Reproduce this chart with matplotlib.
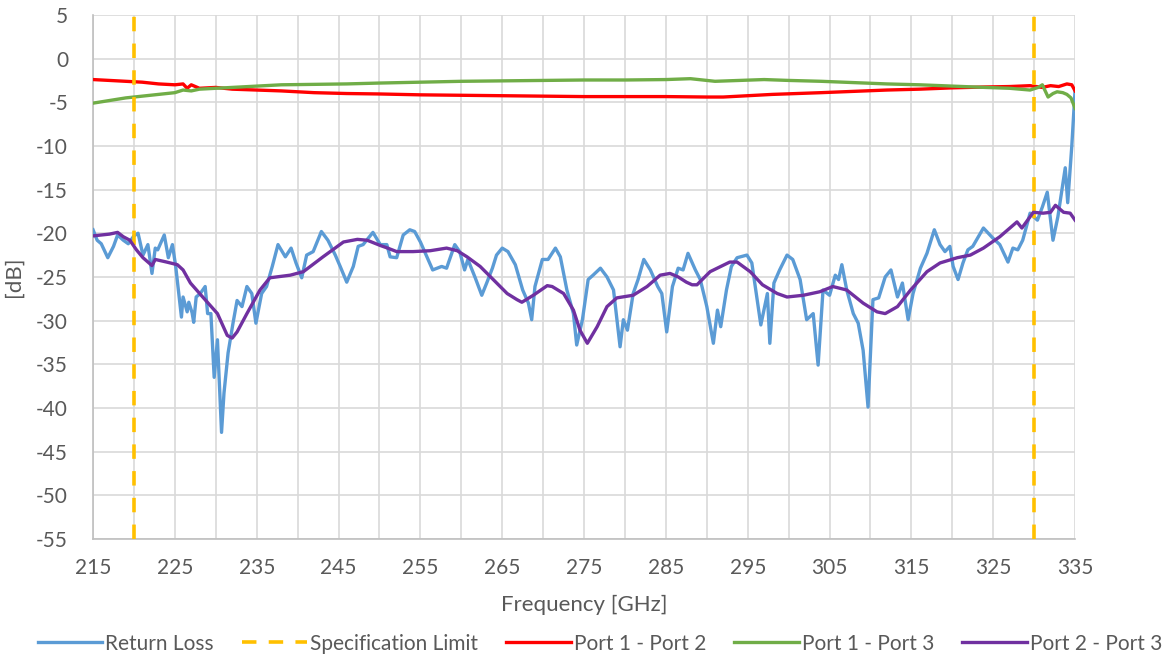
import matplotlib
matplotlib.use('Agg')
import matplotlib.pyplot as plt

plt.rcParams['font.family'] = ['Lato', 'DejaVu Sans']
plt.rcParams['axes.unicode_minus'] = False

# Return Loss (blue)
rl_freq = [215, 215.5, 216, 216.8, 217.5, 218, 218.7, 219.3, 220, 220.5, 221.1, 221.7, 222.2, 222.6,
           222.9, 223.7, 224.2, 224.7, 225.1, 225.8, 226, 226.5, 226.7, 227.1, 227.3, 227.6, 228.1,
           228.7, 229, 229.4, 229.8, 230.2, 230.7, 231, 231.5, 232.1, 232.6, 233.2, 233.8, 234.4,
           234.9, 235.6, 236.2, 236.9, 237.6, 238.5, 239.2, 239.8, 240.5, 241.1, 241.9, 242.9,
           243.7, 244.6, 245.2, 246, 246.8, 247.4, 248, 249.2, 250.1, 250.9, 251.3, 252.1, 252.9,
           253.7, 254.3, 255, 255.8, 256.5, 257.6, 258.2, 259.2, 259.8, 260.4, 260.8, 261.7, 262.5,
           263.1, 263.8, 264.3, 265, 265.7, 266.6, 267.5, 268.2, 268.6, 269, 269.9, 270.6, 271.5,
           272.1, 272.9, 273.7, 274.1, 274.8, 275.5, 276.1, 277, 277.8, 278.6, 279.4, 279.8, 280.3,
           281, 281.6, 282.3, 283.1, 284, 284.5, 285.1, 285.8, 286.5, 287.1, 287.7, 288.6, 289.2,
           290, 290.8, 291.3, 291.7, 292.4, 293, 293.7, 294.9, 295.5, 296.1, 296.6, 297.4, 297.7,
           298.2, 298.9, 299.8, 300.5, 301.4, 302.2, 303, 303.6, 304.2, 305, 305.7, 306.1, 306.5,
           307.1, 307.9, 308.5, 309.1, 309.7, 310.3, 311, 311.8, 312.5, 313.3, 313.9, 314.6, 315.2,
           316.1, 316.9, 317.8, 318.5, 319.1, 319.7, 320.1, 320.7, 321.3, 321.9, 322.5, 323.8,
           324.9, 325.8, 326.8, 327.4, 328, 328.6, 329.5, 330.4, 331, 331.6, 332.3, 332.9, 333.8,
           334.1, 334.6, 335]
rl_db = [-19.6, -20.8, -21.2, -22.8, -21.5, -20.2, -20.8, -21.2, -20.3, -20, -22.5, -21.3, -24.6, -21.7,
         -21.9, -20.2, -22.8, -21.3, -23.8, -29.6, -27.3, -29, -27.9, -29.1, -30.2, -27.3, -26.9,
         -26.1, -29.2, -29.2, -36.5, -32.2, -42.8, -38.3, -33.7, -30.3, -27.7, -28.4, -26.1, -26.9,
         -30.3, -26.9, -26.1, -23.8, -21.3, -22.7, -21.7, -23.4, -25.1, -22.5, -22.1, -19.8,
         -20.8, -22.5, -23.8, -25.6, -23.8, -21.5, -21.3, -19.9, -21.3, -21.3, -22.7, -22.8, -20.2,
         -19.6, -19.8, -21, -22.7, -24.2, -23.8, -24, -21.3, -22.1, -24.2, -23, -25.1, -27.1,
         -25.7, -24, -22.5, -21.7, -22.1, -23.6, -26.5, -28, -29.9, -26.1, -23, -23, -21.7,
         -22.7, -26.5, -29.2, -32.8, -29.9, -25.3, -24.8, -24, -25, -26.5, -33, -29.9, -31.1,
         -26.9, -25.3, -23, -24.2, -26.1, -26.9, -31.3, -26.1, -24, -24.2, -22.3, -24.2, -25.3,
         -28.4, -32.6, -28.8, -30.7, -26.5, -23.8, -22.8, -22.5, -23.4, -27.3, -30.5, -26.9, -32.6,
         -25.7, -24.2, -22.5, -23, -25.3, -29.9, -29.2, -35.1, -26.5, -27.1, -24.8, -25.3, -23.6,
         -26.5, -29.2, -30.3, -33.4, -39.9, -27.6, -27.4, -25, -24.2, -27.3, -25.7, -29.9, -26.9,
         -24, -22.3, -19.6, -21.3, -22.1, -21.5, -23.8, -25.3, -23.4, -21.9, -21.5, -19.4,
         -20.5, -21.3, -23.3, -21.7, -21.9, -20.8, -17.7, -18.5, -17, -15.3, -20.8, -18.1, -12.5,
         -16.5, -10, -3.6]

# Port 2 - Port 3 (purple)
p23_freq = [215, 216, 217, 218, 218.7, 219.5, 220.3, 221.1, 222.2, 222.6, 224, 225.3, 226, 226.9,
            228.4, 230.2, 231.4, 232, 232.6, 233.8, 235.4, 236.6, 239.1, 240.7, 243.1, 245.6, 247.3,
            248.5, 250.1, 251, 252.1, 254.1, 256.2, 258.2, 259.5, 260.7, 262.3, 263.9, 265.6, 266.8,
            267.4, 268.8, 270.5, 271.1, 272.5, 273.7, 274.5, 275.4, 276.6, 277.8, 279, 281, 282.7,
            284.3, 285.5, 286.5, 287.5, 288.2, 288.8, 290.4, 292.8, 293.7, 295.3, 296.8, 298.6,
            299.8, 301.8, 303.8, 305.4, 307.1, 309.1, 310.8, 311.8, 313.3, 314.9, 316.9, 318.5,
            320.6, 322.2, 323.8, 325.8, 327.9, 328.5, 329.9, 331.1, 332, 332.6, 333.6, 334.4, 335]
p23_db = [-20.3, -20.2, -20.1, -19.9, -20.4, -20.8, -21.9, -22.8, -23.7, -23, -23.3, -23.6, -24.2, -25.7,
          -27.3, -29.2, -31.7, -32, -31.3, -29.2, -26.5, -25.1, -24.8, -24.4, -22.7, -21, -20.7,
          -20.8, -21.4, -21.7, -22.1, -22.1, -22, -21.7, -22, -22.7, -23.8, -25.3, -26.9, -27.6,
          -27.9, -27.1, -26, -26.1, -26.9, -28.8, -31.1, -32.6, -30.7, -28.4, -27.4, -27.1, -26.1,
          -24.8, -24.6, -25, -25.6, -25.9, -25.9, -24.4, -23.3, -23.3, -24.4, -25.9, -26.9,
          -27.3, -27.1, -26.7, -26.1, -26.5, -28, -29, -29.2, -28.4, -26.5, -24.4, -23.4,
          -22.8, -22.5, -21.7, -20.4, -18.7, -19.4, -17.6, -17.7, -17.6, -16.8, -17.6, -17.7, -18.5]

# Port 1 - Port 2 (red)
p12_freq = [215, 217, 219, 221, 223, 225, 226, 226.5, 227, 228, 230, 232, 235, 238, 242, 246, 250,
            255, 260, 265, 270, 275, 280, 285, 290, 292, 295, 298, 301, 304, 308, 312, 316, 320,
            324, 327, 329.5, 331, 332, 333, 334, 334.6, 335]
p12_db = [-2.4, -2.5, -2.6, -2.7, -2.9, -3.0, -2.9, -3.4, -3.0, -3.4, -3.3, -3.5, -3.6, -3.7, -3.9, -4.0,
          -4.05, -4.15, -4.2, -4.25, -4.3, -4.35, -4.35, -4.35, -4.4, -4.4, -4.25, -4.1, -4.0, -3.9,
          -3.75, -3.6, -3.5, -3.35, -3.25, -3.2, -3.1, -3.3, -3.1, -3.2, -2.9, -3.0, -3.7]

# Port 1 - Port 3 (green)
p13_freq = [215, 217, 219, 221, 223, 225, 226, 227, 228, 230, 232, 235, 238, 242, 246, 250, 255,
            260, 265, 270, 275, 280, 285, 288, 291, 294, 297, 300, 304, 308, 312, 316, 320, 324,
            327, 329.5, 330.5, 331, 331.7, 332.3, 332.8, 333.5, 334, 334.5, 335]
p13_db = [-5.1, -4.8, -4.5, -4.3, -4.1, -3.9, -3.6, -3.7, -3.5, -3.4, -3.3, -3.15, -3.0, -2.95, -2.9,
          -2.8, -2.7, -2.6, -2.55, -2.5, -2.45, -2.45, -2.4, -2.3, -2.6, -2.5, -2.4, -2.5, -2.6,
          -2.75, -2.9, -3.0, -3.15, -3.3, -3.4, -3.6, -3.3, -3.0, -4.4, -4.0, -3.8, -3.9, -4.1,
          -4.5, -5.7]

spec_limits = [220, 330]
x_ticks = list(range(215, 336, 10))
y_ticks = list(range(-55, 6, 5))

fig = plt.figure(figsize=(11.72, 6.58), dpi=100)
ax = fig.add_axes([0.0794, 0.181, 0.8379, 0.7963])

lw = 2.4
ax.plot(rl_freq, rl_db, color='#5B9BD5', lw=lw, label='Return Loss', zorder=3)
for i, f in enumerate(spec_limits):
    ax.plot([f, f], [-55, 5], color='#FFC000', lw=2.6, dashes=(4.0, 3.4),
            label='Specification Limit' if i == 0 else None, zorder=4)
ax.plot(p12_freq, p12_db, color='#FF0000', lw=lw, label='Port 1 - Port 2', zorder=3)
ax.plot(p13_freq, p13_db, color='#70AD47', lw=lw, label='Port 1 - Port 3', zorder=3)
ax.plot(p23_freq, p23_db, color='#7030A0', lw=lw, label='Port 2 - Port 3', zorder=5)

ax.set_xlim(215, 335)
ax.set_ylim(-55, 5)
ax.set_xticks(x_ticks)
ax.set_yticks(y_ticks)
ax.set_xticks(range(215, 336, 5), minor=True)
ax.grid(True, which='both', color='#D9D9D9', lw=1.2, zorder=0)
ax.tick_params(which='both', length=0, labelsize=15, colors='#595959')
ax.tick_params(axis='x', pad=14)
ax.tick_params(axis='y', pad=18)
for s in ['top', 'right']:
    ax.spines[s].set_visible(False)
for s in ['left', 'bottom']:
    ax.spines[s].set_color('#BFBFBF')
    ax.spines[s].set_linewidth(1.2)

ax.set_xlabel('Frequency [GHz]', fontsize=16, color='#595959', labelpad=12)
ax.set_ylabel('[dB]', fontsize=16, color='#595959', labelpad=9)

fig.legend(loc='center', bbox_to_anchor=(0.512, 0.022), ncol=5, frameon=False,
           fontsize=15, handlelength=3.1, handletextpad=0.15, columnspacing=1.35,
           labelcolor='#595959')

plt.savefig('out.png', dpi=100)
